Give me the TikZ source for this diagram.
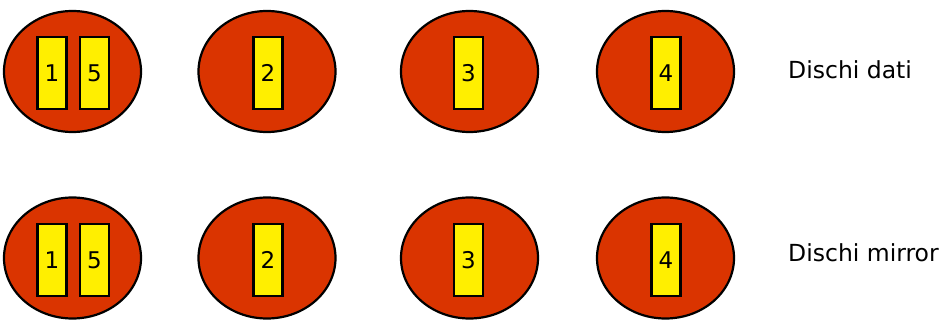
\documentclass[tikz,border=0pt]{standalone}
\usepackage{fontspec}
\setmainfont{DejaVu Sans}
\usetikzlibrary{shapes.geometric}
\definecolor{diskred}{HTML}{DA3400}
\definecolor{diskyellow}{HTML}{FFEF00}
\tikzset{
  disk/.style={ellipse, draw=black, line width=2.2pt, fill=diskred, minimum width=137pt, minimum height=121pt, inner sep=0pt},
  block/.style={rectangle, draw=black, line width=2.2pt, fill=diskyellow, minimum width=29pt, minimum height=72pt, inner sep=0pt, font=\fontsize{23}{27}\selectfont},
  lbl/.style={anchor=west, inner sep=0pt, font=\fontsize{23.5}{28}\selectfont}
}
\begin{document}
\begin{tikzpicture}[x=1pt,y=-1pt]
\useasboundingbox (0,0) rectangle (942,320);
% top row
\node[disk] (d1) at (72.5,71.5) {};
\node[disk] (d2) at (267,71.5) {};
\node[disk] (d3) at (469.5,71.5) {};
\node[disk] (d4) at (665.5,71.5) {};
\node[block] (b1) at (52,73) {1};
\node[block] (b5) at (94.5,73) {5};
\node[block] (b2) at (268,73) {2};
\node[block] (b3) at (468.5,73) {3};
\node[block] (b4) at (666,73) {4};
\node[lbl] (t1) at (788,70) {Dischi dati};
% bottom row
\node[disk] (m1) at (72.5,258) {};
\node[disk] (m2) at (267,258) {};
\node[disk] (m3) at (469.5,258) {};
\node[disk] (m4) at (665.5,258) {};
\node[block] (c1) at (52,260) {1};
\node[block] (c5) at (94.5,260) {5};
\node[block] (c2) at (268,260) {2};
\node[block] (c3) at (468.5,260) {3};
\node[block] (c4) at (666,260) {4};
\node[lbl] (t2) at (788,253) {Dischi mirror};
\end{tikzpicture}
\end{document}
